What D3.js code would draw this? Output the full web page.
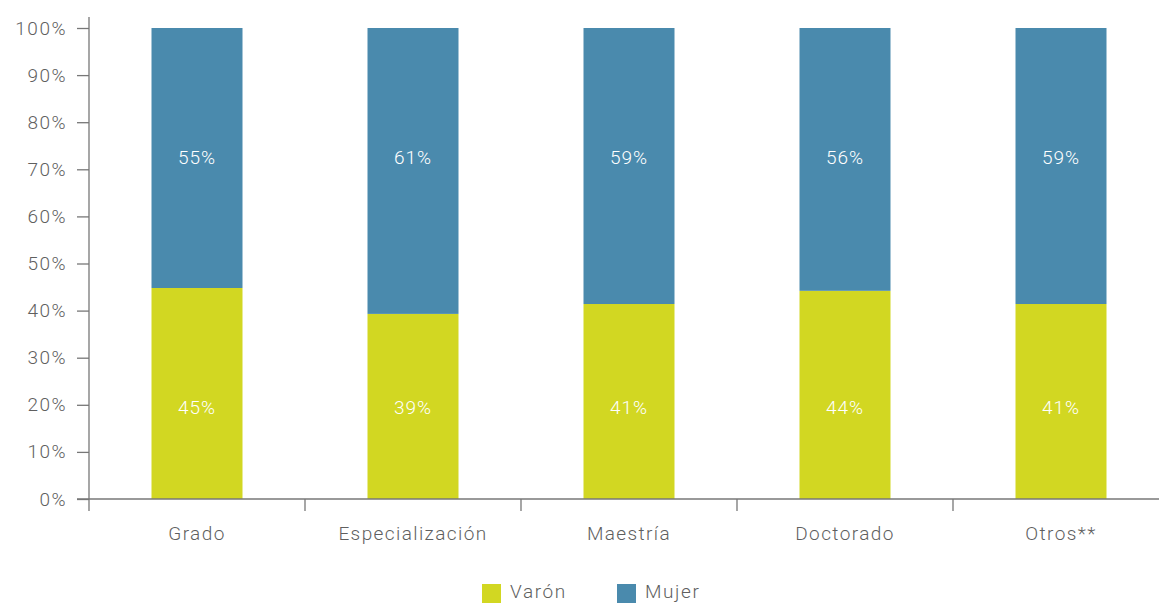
<!DOCTYPE html>
<html><head><meta charset="utf-8">
<script src="https://cdn.jsdelivr.net/npm/d3@7"></script>
<style>body{margin:0;background:#fff}svg text{font-family:Roboto,"Noto Sans",sans-serif;font-weight:300;}</style>
</head><body><svg id="c" width="1159" height="603"></svg>
<script>
const categories = ["Grado","Especialización","Maestría","Doctorado","Otros**"];
const varon = [44.8, 39.3, 41.4, 44.2, 41.4];
const mujer = [55.2, 60.7, 58.6, 55.8, 58.6];
const varonLabels = ["45%","39%","41%","44%","41%"];
const mujerLabels = ["55%","61%","59%","56%","59%"];
const yTicks = [0,10,20,30,40,50,60,70,80,90,100];
const seriesNames = ["Varón","Mujer"];
const colors = {"Varón":"#D2D722","Mujer":"#4A8AAD"};

const svg = d3.select("#c");
const x = d3.scaleBand().domain(categories).range([89,1169]).paddingInner(0).paddingOuter(0);
const y = d3.scaleLinear().domain([0,100]).range([499,28]);
const bw = 91;
const textColor = "#5f5f5f";

categories.forEach((c,i)=>{
  const cx = x(c)+x.bandwidth()/2;
  svg.append("rect").attr("x",cx-bw/2).attr("width",bw)
    .attr("y",y(varon[i])).attr("height",y(0)-y(varon[i])).attr("fill",colors["Varón"]);
  svg.append("rect").attr("x",cx-bw/2).attr("width",bw)
    .attr("y",y(varon[i]+mujer[i])).attr("height",y(varon[i])-y(varon[i]+mujer[i])).attr("fill",colors["Mujer"]);
  svg.append("text").attr("x",cx).attr("y",y(19.5)).attr("dy","0.35em").attr("text-anchor","middle")
    .attr("fill","#fff").attr("font-size",19).style("letter-spacing","1px").text(varonLabels[i]);
  svg.append("text").attr("x",cx).attr("y",y(72.6)).attr("dy","0.35em").attr("text-anchor","middle")
    .attr("fill","#fff").attr("font-size",19).style("letter-spacing","1px").text(mujerLabels[i]);
});

const gy = svg.append("g").attr("transform","translate(89,0)")
  .call(d3.axisLeft(y).tickValues(yTicks).tickFormat(d=>d+"%").tickSize(12).tickPadding(10));
gy.select(".domain").attr("d","M0,17V499");
gy.selectAll("line,path").attr("stroke","#777").attr("stroke-width",1.3);
gy.selectAll("text").attr("fill",textColor).attr("font-size",19).style("letter-spacing","1.5px");

const gx = svg.append("g").attr("transform","translate(0,499)");
gx.append("line").attr("x1",77).attr("x2",1169).attr("stroke","#777").attr("stroke-width",1.3);
categories.forEach(c=>{
  gx.append("line").attr("x1",x(c)).attr("x2",x(c)).attr("y1",0).attr("y2",12).attr("stroke","#777").attr("stroke-width",1.3);
  gx.append("text").attr("x",x(c)+x.bandwidth()/2).attr("y",41).attr("text-anchor","middle")
    .attr("fill",textColor).attr("font-size",19).style("letter-spacing","1.4px").text(c);
});

const lx = [482,617];
seriesNames.forEach((s,i)=>{
  svg.append("rect").attr("x",lx[i]).attr("y",584).attr("width",19).attr("height",19).attr("fill",colors[s]);
  svg.append("text").attr("x",lx[i]+28).attr("y",598).attr("fill",textColor).attr("font-size",19)
    .style("letter-spacing","1.6px").text(s);
});
</script></body></html>
